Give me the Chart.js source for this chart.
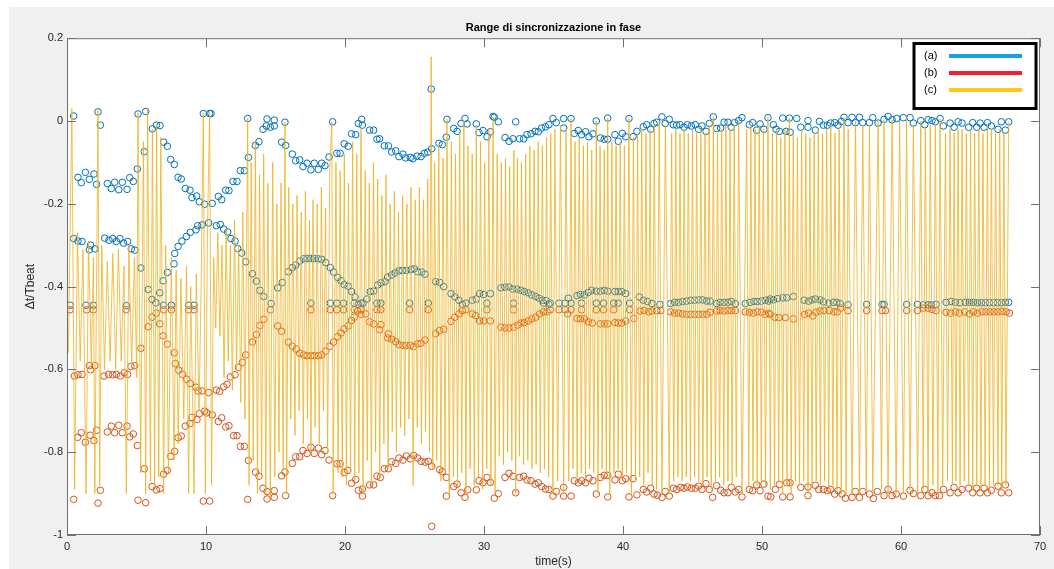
<!DOCTYPE html>
<html lang="it">
<head>
<meta charset="UTF-8">
<title>Range di sincronizzazione in fase</title>
<script src="https://cdn.jsdelivr.net/npm/chart.js"></script>
<style>
  html, body { margin: 0; padding: 0; background: #fff; }
</style>
</head>
<body>
<canvas id="chart" width="1054" height="569"></canvas>
<script>
// axis ticks
const xTicks = [0, 10, 20, 30, 40, 50, 60, 70];
const yTicks = [0.2, 0, -0.2, -0.4, -0.6, -0.8, -1];
const legendLabels = ['(a)', '(b)', '(c)'];

// (a) blue circles, [time, value]
const blue0 = [[0.22,-0.445],[0.48,0.012],[0.48,-0.284],[0.79,-0.136],[0.79,-0.29],[1.03,-0.149],[1.08,-0.291],[1.32,-0.124],[1.37,-0.445],[1.61,-0.141],[1.61,-0.311],[1.7,-0.3],[1.9,-0.445],[1.94,-0.128],[2.01,-0.309],[2.13,-0.153],[2.23,0.022],[2.4,-0.01],[2.71,-0.283],[2.9,-0.151],[3.02,-0.288],[3.19,-0.163],[3.29,-0.284],[3.43,-0.148],[3.55,-0.291],[3.72,-0.166],[3.81,-0.284],[3.98,-0.148],[4.07,-0.295],[4.27,-0.446],[4.32,-0.165],[4.36,-0.291],[4.51,-0.137],[4.63,-0.309],[4.77,-0.146],[4.87,-0.312],[5.06,-0.116],[5.11,0.017],[5.32,-0.355],[5.56,-0.074],[5.66,0.023],[5.85,-0.407],[6.12,-0.431],[6.14,-0.019],[6.4,-0.439],[6.43,-0.01],[6.67,-0.415],[6.69,-0.011],[6.91,-0.386],[6.95,-0.051],[6.95,-0.445],[7.22,-0.366],[7.22,-0.061],[7.46,-0.093],[7.51,-0.445],[7.7,-0.345],[7.72,-0.105],[7.75,-0.32],[7.99,-0.136],[7.99,-0.303],[8.22,-0.14],[8.27,-0.29],[8.51,-0.163],[8.59,-0.279],[8.75,-0.445],[8.85,-0.167],[8.87,-0.269],[8.99,-0.185],[9.14,-0.445],[9.28,-0.263],[9.33,-0.181],[9.4,-0.253],[9.52,-0.195],[9.71,-0.251],[9.81,0.018],[9.9,-0.201],[10.19,-0.246],[10.26,0.018]];
const blue1 = [[10.36,0.018],[10.45,-0.199],[10.74,-0.253],[10.89,-0.182],[11.03,-0.25],[11.13,-0.19],[11.27,-0.261],[11.42,-0.167],[11.56,-0.268],[11.65,-0.168],[11.8,-0.284],[11.94,-0.146],[12.09,-0.29],[12.23,-0.146],[12.28,-0.308],[12.47,-0.12],[12.57,-0.319],[12.76,-0.12],[12.86,-0.34],[13.0,0.006],[13.05,-0.088],[13.34,-0.369],[13.55,-0.059],[13.63,-0.387],[13.81,-0.05],[13.87,-0.409],[14.1,-0.02],[14.15,-0.424],[14.34,-0.012],[14.39,0.005],[14.63,-0.015],[14.68,-0.441],[14.91,0.002],[14.91,-0.012],[15.16,-0.403],[15.44,-0.051],[15.49,-0.39],[15.68,-0.003],[15.73,-0.059],[15.93,-0.364],[16.21,-0.08],[16.21,-0.354],[16.45,-0.096],[16.45,-0.348],[16.74,-0.094],[16.74,-0.338],[16.98,-0.11],[17.03,-0.333],[17.27,-0.102],[17.27,-0.332],[17.55,-0.118],[17.55,-0.332],[17.55,-0.44],[17.79,-0.102],[17.79,-0.332],[18.08,-0.117],[18.08,-0.333],[18.32,-0.102],[18.32,-0.334],[18.56,-0.108],[18.61,-0.342],[18.85,-0.087],[18.94,-0.354],[18.94,-0.44],[19.11,-0.002],[19.18,-0.365],[19.42,-0.078],[19.42,-0.44],[19.47,-0.378],[19.65,-0.078],[19.71,-0.386],[19.9,-0.44],[19.94,-0.055],[19.94,-0.395],[20.23,-0.061],[20.23,-0.399],[20.47,-0.031],[20.47,-0.412]];
const blue2 = [[20.77,-0.033],[20.96,-0.006],[21.2,0.004],[21.25,-0.01],[21.77,-0.022],[22.06,-0.022],[22.3,-0.044],[22.49,-0.043],[22.83,-0.06],[23.12,-0.06],[23.36,-0.075],[23.65,-0.072],[23.88,-0.086],[24.17,-0.08],[24.36,-0.089],[24.7,-0.088],[24.89,-0.091],[25.18,-0.085],[25.47,-0.086],[25.71,-0.078],[25.95,-0.075],[26.2,0.077],[26.24,-0.067],[26.76,-0.054],[27.0,-0.057],[27.29,-0.039],[27.34,0.004],[27.82,-0.018],[28.06,-0.025],[28.35,-0.006],[28.63,0.006],[28.78,-0.007],[29.45,-0.007],[29.64,-0.028],[29.93,-0.023],[30.22,-0.038],[30.46,-0.026],[30.65,0.011],
  [20.72,-0.425],[20.96,-0.443],[21.3,-0.44],[21.58,-0.43],[21.82,-0.412],[22.06,-0.411],[22.35,-0.396],[22.59,-0.391],[22.88,-0.388],[23.07,-0.377],[23.36,-0.372],[23.6,-0.367],[23.88,-0.362],[24.12,-0.361],[24.41,-0.361],[24.75,-0.359],[24.99,-0.357],[25.23,-0.364],[25.52,-0.365],[25.76,-0.37],[26.52,-0.388],[26.81,-0.39],[27.1,-0.4],[27.63,-0.417],[27.91,-0.425],[28.2,-0.433],[28.44,-0.443],[29.16,-0.433],[29.45,-0.43],[29.69,-0.417],[29.98,-0.419],[30.46,-0.417],
  [20.67,-0.44],[21.15,-0.44],[22.3,-0.44],[22.58,-0.44],[24.65,-0.44],[25.99,-0.44],[28.7,-0.44],[30.2,-0.44]];
const blue3 = [[30.74,0.009],[31.03,-0.002],[31.51,-0.04],[31.8,-0.049],[32.08,-0.043],[32.28,-0.002],[32.56,-0.043],[32.85,-0.043],[33.09,-0.033],[33.38,-0.031],[33.67,-0.025],[33.91,-0.026],[34.15,-0.017],[34.43,-0.014],[34.67,-0.009],[34.96,0.006],[35.2,-0.004],[35.73,0.006],[35.73,-0.017],[36.26,0.006],[36.5,-0.03],[36.78,-0.023],[37.02,-0.033],[37.31,-0.026],[37.55,-0.038],[37.84,-0.031],[38.08,0],[38.37,-0.041],[38.65,-0.044],[38.9,0.007],[38.9,-0.044],[39.42,-0.033],[39.66,-0.049],[39.95,-0.03],[40.19,-0.038],[40.43,0.006],[40.72,-0.038],
  [31.22,-0.403],[31.51,-0.401],[31.8,-0.401],[32.08,-0.406],[32.37,-0.406],[32.66,-0.409],[32.9,-0.412],[33.19,-0.415],[33.43,-0.42],[33.72,-0.424],[33.96,-0.428],[34.2,-0.433],[34.48,-0.434],[34.67,-0.443],[36.07,-0.428],[36.69,-0.422],[36.93,-0.419],[37.22,-0.42],[37.5,-0.414],[37.74,-0.409],[38.08,-0.411],[38.37,-0.411],[38.65,-0.409],[38.9,-0.411],[39.42,-0.412],[39.66,-0.412],[39.9,-0.412],[40.19,-0.417],
  [32.13,-0.44],[34.29,-0.44],[34.77,-0.44],[35.4,-0.44],[35.83,-0.44],[36.26,-0.44],[37.02,-0.44],[38.08,-0.44],[38.6,-0.44],[39.33,-0.44],[39.66,-0.44],[40.48,-0.44]];
const blue4 = [[41.0,-0.025],[41.46,-0.014],[41.7,-0.009],[41.99,-0.02],[42.23,-0.006],[42.42,-0.003],[42.8,0.01],[43.04,-0.006],[43.33,0.004],[43.62,-0.009],[43.86,-0.01],[44.1,-0.009],[44.39,-0.015],[44.63,-0.009],[44.92,-0.012],[45.2,-0.009],[45.44,-0.02],[45.68,-0.012],[45.97,-0.025],[46.21,-0.006],[46.5,0.01],[46.74,-0.018],[47.03,-0.017],[47.27,-0.003],[47.55,-0.003],[47.79,-0.015],[48.03,-0.004],[48.32,0.001],[48.56,0.008],[49.09,-0.009],[49.33,-0.004],[49.62,-0.022],[49.86,-0.007],[50.14,-0.02],[50.43,0.008],
  [41.17,-0.425],[41.46,-0.433],[41.75,-0.436],[42.08,-0.441],[42.66,-0.443],[43.43,-0.441],[43.72,-0.438],[44.0,-0.438],[44.29,-0.436],[44.58,-0.435],[44.87,-0.433],[45.15,-0.433],[45.44,-0.432],[45.73,-0.432],[46.02,-0.435],[46.26,-0.435],[46.74,-0.441],[46.98,-0.438],[47.27,-0.438],[47.55,-0.438],[47.79,-0.436],[48.08,-0.441],[48.8,-0.441],[49.14,-0.438],[49.42,-0.436],[49.66,-0.436],[49.95,-0.435],[50.24,-0.433],[50.48,-0.435]];
const blue5 = [[50.82,-0.009],[51.01,-0.02],[51.25,-0.025],[51.49,0.007],[51.73,-0.025],[51.97,0.007],[52.02,-0.027],[52.5,0.006],[52.79,-0.015],[53.31,0.001],[53.31,-0.015],[53.84,-0.022],[54.13,-0.001],[54.42,-0.01],[54.7,-0.01],[54.94,-0.005],[55.23,-0.004],[55.47,-0.01],[55.71,-0.001],[55.9,0.009],[56.19,-0.004],[56.48,0.009],[56.72,-0.004],[57.01,0.009],[57.25,-0.004],[57.73,-0.004],[57.97,0.008],[58.35,-0.005],[58.78,0.004],[59.07,0.011],[59.36,0.003],[59.69,0.006],[60.17,0.008],[60.65,0.008],[60.89,-0.005],[61.42,0.001],[61.71,-0.009],[61.95,0.003],[62.23,0.001],[62.47,-0.002],[62.81,0.006],[63.05,-0.012],[63.53,-0.005],[63.82,-0.015],[64.11,-0.002],[64.39,-0.005],[64.87,-0.015],[65.16,-0.004],[65.45,-0.015],[65.69,-0.005],[65.98,-0.015],[66.22,-0.004],[66.5,-0.012],[66.98,-0.02],[67.22,-0.002],[67.51,-0.022],[67.75,-0.002],
  [50.58,-0.43],[50.82,-0.432],[51.11,-0.429],[51.49,-0.427],[51.78,-0.427],[52.26,-0.424],[53.03,-0.433],[53.36,-0.435],[53.6,-0.432],[53.84,-0.43],[54.18,-0.432],[54.42,-0.437],[54.8,-0.44],[55.14,-0.438],[55.38,-0.438],[55.62,-0.441],[56.19,-0.444],[57.53,-0.443],[58.64,-0.443],[58.78,-0.443],[60.41,-0.443],[61.18,-0.443],[61.61,-0.444],[61.95,-0.444],[62.19,-0.444],[62.52,-0.443],[63.24,-0.438],[63.62,-0.436],[63.91,-0.438],[64.25,-0.439],[64.63,-0.438],[64.92,-0.438],[65.21,-0.438],[65.5,-0.439],[65.79,-0.439],[66.07,-0.439],[66.36,-0.439],[66.65,-0.439],[66.94,-0.439],[67.22,-0.439],[67.51,-0.438],[67.75,-0.438]];

// (b) red circles, [time, value]
const red0 = [[0.22,-0.456],[0.48,-0.914],[0.53,-0.616],[0.77,-0.764],[0.79,-0.613],[1.03,-0.753],[1.08,-0.612],[1.32,-0.776],[1.42,-0.456],[1.61,-0.591],[1.66,-0.759],[1.7,-0.601],[1.9,-0.456],[1.94,-0.772],[2.01,-0.591],[2.13,-0.747],[2.23,-0.923],[2.4,-0.892],[2.66,-0.616],[2.9,-0.751],[2.99,-0.612],[3.19,-0.737],[3.29,-0.613],[3.43,-0.753],[3.55,-0.612],[3.72,-0.735],[3.84,-0.616],[3.98,-0.753],[4.12,-0.608],[4.25,-0.456],[4.32,-0.737],[4.36,-0.612],[4.51,-0.763],[4.6,-0.593],[4.77,-0.756],[4.87,-0.591],[5.06,-0.784],[5.11,-0.916],[5.32,-0.549],[5.56,-0.84],[5.66,-0.922],[5.85,-0.497],[6.12,-0.474],[6.12,-0.883],[6.43,-0.891],[6.43,-0.464],[6.67,-0.49],[6.69,-0.888],[6.91,-0.519],[6.95,-0.853],[6.95,-0.456],[7.22,-0.539],[7.22,-0.844],[7.46,-0.81],[7.51,-0.456],[7.72,-0.56],[7.75,-0.798],[7.8,-0.586],[7.99,-0.765],[8.04,-0.602],[8.22,-0.761],[8.32,-0.612],[8.51,-0.737],[8.61,-0.624],[8.75,-0.456],[8.85,-0.731],[8.87,-0.634],[8.99,-0.716],[9.14,-0.456],[9.28,-0.643],[9.35,-0.721],[9.43,-0.652],[9.52,-0.707],[9.71,-0.652],[9.81,-0.918],[9.9,-0.701],[10.19,-0.656],[10.26,-0.918]];
const red1 = [[10.05,-0.705],[10.45,-0.71],[10.74,-0.65],[10.89,-0.726],[10.98,-0.653],[11.13,-0.717],[11.27,-0.642],[11.42,-0.739],[11.51,-0.636],[11.65,-0.736],[11.75,-0.618],[11.99,-0.76],[12.09,-0.613],[12.23,-0.76],[12.33,-0.595],[12.47,-0.786],[12.62,-0.583],[12.76,-0.786],[12.86,-0.565],[13.0,-0.914],[13.05,-0.82],[13.34,-0.534],[13.57,-0.848],[13.63,-0.516],[13.81,-0.858],[13.87,-0.494],[14.1,-0.887],[14.15,-0.479],[14.39,-0.895],[14.39,-0.913],[14.63,-0.456],[14.91,-0.893],[14.91,-0.909],[15.16,-0.495],[15.44,-0.508],[15.44,-0.857],[15.68,-0.848],[15.73,-0.905],[15.93,-0.534],[16.21,-0.544],[16.21,-0.827],[16.45,-0.811],[16.5,-0.551],[16.74,-0.561],[16.74,-0.811],[16.98,-0.796],[17.03,-0.565],[17.27,-0.567],[17.27,-0.803],[17.55,-0.567],[17.55,-0.788],[17.55,-0.456],[17.79,-0.567],[17.79,-0.803],[18.08,-0.567],[18.08,-0.79],[18.32,-0.565],[18.32,-0.806],[18.56,-0.796],[18.61,-0.556],[18.85,-0.819],[18.9,-0.544],[18.94,-0.456],[19.11,-0.905],[19.18,-0.534],[19.42,-0.828],[19.42,-0.456],[19.47,-0.521],[19.65,-0.828],[19.71,-0.512],[19.9,-0.456],[19.94,-0.502],[19.94,-0.849],[20.2,-0.844],[20.23,-0.495],[20.47,-0.482],[20.47,-0.875]];
const red2 = [[20.67,-0.474],[20.91,-0.459],[21.15,-0.467],[21.49,-0.466],[21.77,-0.485],[22.06,-0.49],[22.49,-0.504],[22.59,-0.492],[23.07,-0.524],[23.12,-0.514],[23.36,-0.527],[23.65,-0.533],[23.88,-0.54],[24.17,-0.542],[24.41,-0.542],[24.7,-0.542],[24.94,-0.545],[25.23,-0.538],[25.47,-0.537],[25.76,-0.529],[26.52,-0.514],[26.81,-0.506],[27.1,-0.503],[27.63,-0.484],[27.91,-0.474],[28.2,-0.466],[28.44,-0.458],[29.16,-0.466],[29.4,-0.47],[29.69,-0.483],[29.98,-0.483],[30.46,-0.483],
  [20.67,-0.456],[21.15,-0.456],[22.3,-0.456],[22.58,-0.456],[24.65,-0.456],[25.99,-0.456],[28.7,-0.456],[30.2,-0.456],
  [20.77,-0.866],[20.96,-0.892],[21.25,-0.906],[21.25,-0.889],[21.77,-0.879],[22.06,-0.879],[22.3,-0.858],[22.54,-0.861],[22.83,-0.84],[23.12,-0.84],[23.36,-0.823],[23.65,-0.827],[23.88,-0.814],[24.17,-0.819],[24.41,-0.809],[24.7,-0.816],[24.94,-0.808],[25.23,-0.814],[25.47,-0.822],[25.76,-0.824],[26.0,-0.822],[26.24,-0.834],[26.24,-0.979],[26.81,-0.842],[27.0,-0.847],[27.29,-0.861],[27.29,-0.906],[27.82,-0.883],[28.06,-0.877],[28.35,-0.898],[28.63,-0.909],[28.83,-0.891],[29.45,-0.891],[29.64,-0.869],[29.93,-0.874],[30.22,-0.861],[30.46,-0.873]];
const red3 = [[31.22,-0.498],[31.51,-0.5],[31.8,-0.5],[32.13,-0.498],[32.13,-0.456],[32.42,-0.493],[32.66,-0.488],[32.9,-0.487],[33.19,-0.483],[33.43,-0.478],[33.72,-0.474],[34.0,-0.466],[34.29,-0.461],[34.53,-0.461],[34.77,-0.456],[35.4,-0.456],[35.83,-0.456],[36.02,-0.466],[36.26,-0.456],[36.69,-0.477],[36.93,-0.478],[37.02,-0.456],[37.22,-0.478],[37.5,-0.485],[37.79,-0.488],[38.08,-0.456],[38.37,-0.49],[38.6,-0.456],[38.65,-0.49],[38.9,-0.49],[39.33,-0.456],[39.42,-0.487],[39.66,-0.488],[39.9,-0.488],[40.19,-0.483],[40.48,-0.456],[40.77,-0.477],
  [30.74,-0.911],[31.03,-0.9],[31.51,-0.861],[31.8,-0.851],[32.08,-0.858],[32.28,-0.898],[32.56,-0.861],[32.85,-0.858],[33.09,-0.867],[33.38,-0.869],[33.67,-0.877],[33.91,-0.874],[34.15,-0.883],[34.43,-0.889],[34.67,-0.89],[34.96,-0.906],[35.2,-0.895],[35.73,-0.906],[35.73,-0.885],[36.26,-0.906],[36.5,-0.869],[36.78,-0.874],[37.02,-0.869],[37.31,-0.874],[37.55,-0.863],[37.84,-0.869],[38.08,-0.901],[38.37,-0.861],[38.65,-0.856],[38.9,-0.908],[38.9,-0.856],[39.42,-0.867],[39.66,-0.853],[39.95,-0.869],[40.19,-0.864],[40.43,-0.908],[40.72,-0.864]];
const red4 = [[41.22,-0.459],[41.51,-0.458],[41.85,-0.461],[42.08,-0.459],[42.42,-0.458],[42.71,-0.458],[43.43,-0.461],[43.72,-0.464],[44.0,-0.464],[44.29,-0.466],[44.58,-0.467],[44.87,-0.467],[45.15,-0.467],[45.44,-0.467],[45.73,-0.467],[46.02,-0.467],[46.26,-0.462],[46.74,-0.459],[46.98,-0.458],[47.27,-0.459],[47.55,-0.458],[47.79,-0.458],[48.08,-0.458],[48.8,-0.461],[49.09,-0.462],[49.38,-0.464],[49.66,-0.461],[49.95,-0.462],[50.24,-0.467],[50.48,-0.464],
  [41.0,-0.903],[41.46,-0.89],[41.7,-0.896],[41.99,-0.887],[42.23,-0.901],[42.47,-0.904],[42.8,-0.909],[43.04,-0.895],[43.33,-0.906],[43.62,-0.887],[43.86,-0.89],[44.15,-0.885],[44.39,-0.887],[44.63,-0.884],[44.92,-0.887],[45.2,-0.887],[45.44,-0.882],[45.68,-0.89],[45.97,-0.876],[46.21,-0.89],[46.45,-0.909],[46.74,-0.881],[47.03,-0.892],[47.27,-0.898],[47.55,-0.898],[47.79,-0.885],[48.08,-0.896],[48.32,-0.89],[48.56,-0.908],[49.09,-0.89],[49.33,-0.893],[49.62,-0.879],[49.86,-0.893],[50.14,-0.877],[50.43,-0.906]];
const red5 = [[50.58,-0.467],[50.92,-0.474],[51.2,-0.475],[51.68,-0.475],[52.26,-0.478],[53.07,-0.467],[53.36,-0.464],[53.65,-0.471],[53.89,-0.462],[54.18,-0.459],[54.46,-0.458],[54.85,-0.458],[55.18,-0.461],[55.42,-0.461],[55.66,-0.452],[56.19,-0.458],[57.53,-0.458],[58.64,-0.458],[58.88,-0.458],[60.41,-0.458],[61.18,-0.458],[61.61,-0.452],[61.95,-0.452],[62.23,-0.455],[62.52,-0.458],[63.24,-0.462],[63.58,-0.464],[63.91,-0.461],[64.2,-0.464],[64.58,-0.461],[64.92,-0.466],[65.21,-0.461],[65.5,-0.464],[65.83,-0.461],[66.12,-0.461],[66.41,-0.461],[66.7,-0.461],[66.98,-0.461],[67.27,-0.46],[67.56,-0.461],[67.8,-0.464],
  [50.63,-0.908],[50.96,-0.89],[51.25,-0.878],[51.49,-0.908],[51.78,-0.874],[52.02,-0.874],[52.02,-0.908],[52.79,-0.885],[53.31,-0.884],[53.31,-0.905],[53.84,-0.88],[54.08,-0.89],[54.42,-0.89],[54.7,-0.893],[54.94,-0.89],[55.23,-0.901],[55.47,-0.893],[55.76,-0.901],[56.0,-0.911],[56.48,-0.909],[56.72,-0.895],[57.01,-0.909],[57.25,-0.895],[57.73,-0.901],[58.02,-0.912],[58.3,-0.895],[58.78,-0.905],[59.07,-0.89],[59.36,-0.905],[59.65,-0.901],[60.17,-0.906],[60.65,-0.892],[60.89,-0.9],[61.42,-0.905],[61.71,-0.89],[61.95,-0.905],[62.23,-0.898],[62.47,-0.905],[62.76,-0.905],[63.05,-0.89],[63.53,-0.898],[63.82,-0.885],[64.11,-0.898],[64.39,-0.89],[64.87,-0.887],[65.16,-0.898],[65.45,-0.887],[65.69,-0.898],[65.98,-0.887],[66.22,-0.898],[66.5,-0.892],[66.98,-0.882],[67.22,-0.898],[67.51,-0.879],[67.75,-0.898]];

// (c) yellow line, [time, value]
const yel0 = [[0.1,-0.56],[0.35,0.03],[0.55,-0.89],[0.75,-0.27],[0.95,-0.58],[1.15,-0.31],[1.37,-0.9],[1.55,-0.29],[1.75,-0.59],[1.9,-0.33],[2.0,-0.9],[2.23,0.025],[2.35,-0.88],[2.5,-0.3],[2.7,-0.6],[2.9,-0.34],[3.1,-0.58],[3.3,-0.32],[3.5,-0.6],[3.7,-0.31],[3.9,-0.58],[4.1,-0.35],[4.27,-0.9],[4.45,-0.3],[4.65,-0.59],[4.85,-0.33],[5.02,-0.62],[5.11,0.02],[5.3,-0.85],[5.5,-0.05],[5.66,-0.9],[5.8,0.03],[6.0,-0.87],[6.15,-0.02],[6.3,-0.88],[6.45,-0.01],[6.6,-0.86],[6.75,-0.04],[6.95,-0.9],[7.1,-0.3],[7.3,-0.85],[7.51,-0.33],[7.7,-0.82],[7.85,-0.36],[8.0,-0.78],[8.2,-0.38],[8.4,-0.72],[8.6,-0.35],[8.75,-0.9],[8.9,-0.4],[9.14,-0.9],[9.3,-0.37],[9.5,-0.7],[9.65,-0.4],[9.81,0.02],[9.95,-0.9],[10.1,-0.28],[10.26,0.02],[10.4,-0.88]];
const yel1 = [[10.55,-0.33],[10.7,-0.5],[10.85,-0.27],[11.0,-0.52],[11.15,-0.3],[11.3,-0.62],[11.45,-0.26],[11.6,-0.58],[11.75,-0.3],[11.9,-0.65],[12.05,-0.24],[12.2,-0.6],[12.35,-0.3],[12.5,-0.68],[12.65,-0.22],[12.8,-0.72],[13.0,0.006],[13.1,-0.88],[13.25,-0.1],[13.4,-0.82],[13.55,-0.05],[13.7,-0.9],[13.85,-0.13],[14.0,-0.85],[14.15,-0.08],[14.3,-0.9],[14.45,-0.15],[14.63,-0.91],[14.8,-0.1],[14.95,-0.86],[15.1,-0.2],[15.25,-0.8],[15.4,-0.15],[15.55,-0.84],[15.68,-0.003],[15.8,-0.9],[15.95,-0.16],[16.1,-0.72],[16.25,-0.2],[16.4,-0.76],[16.55,-0.18],[16.7,-0.7],[16.85,-0.22],[17.0,-0.78],[17.15,-0.17],[17.3,-0.72],[17.45,-0.24],[17.55,-0.8],[17.7,-0.19],[17.85,-0.74],[18.0,-0.2],[18.15,-0.78],[18.3,-0.16],[18.45,-0.7],[18.6,-0.21],[18.75,-0.8],[18.9,-0.12],[19.05,-0.002],[19.15,-0.9],[19.35,-0.1],[19.5,-0.85],[19.65,-0.12],[19.8,-0.86],[19.95,-0.08],[20.1,-0.88],[20.25,-0.15],[20.4,-0.84],[20.55,-0.05]];
const yel2 = [[20.7,-0.87],[20.85,-0.08],[21.0,-0.85],[21.15,-0.02],[21.3,-0.9],[21.45,-0.12],[21.6,-0.82],[21.75,-0.15],[21.9,-0.88],[22.05,-0.1],[22.2,-0.8],[22.35,-0.14],[22.5,-0.86],[22.65,-0.18],[22.8,-0.78],[22.95,-0.13],[23.1,-0.84],[23.25,-0.2],[23.4,-0.75],[23.55,-0.17],[23.7,-0.8],[23.85,-0.22],[24.0,-0.74],[24.15,-0.18],[24.3,-0.76],[24.45,-0.2],[24.6,-0.72],[24.75,-0.16],[24.9,-0.88],[25.05,-0.19],[25.2,-0.74],[25.35,-0.16],[25.5,-0.78],[25.65,-0.19],[25.8,-0.75],[25.95,-0.14],[26.08,-0.8],[26.2,0.155],[26.32,-0.84],[26.45,-0.1],[26.6,-0.82],[26.75,-0.06],[26.9,-0.87],[27.05,-0.09],[27.2,-0.84],[27.34,0.004],[27.5,-0.9],[27.65,-0.05],[27.8,-0.86],[27.95,-0.08],[28.1,-0.88],[28.25,-0.03],[28.4,-0.85],[28.55,0.0],[28.7,-0.9],[28.85,-0.06],[29.0,-0.84],[29.15,-0.08],[29.3,-0.88],[29.45,-0.01],[29.6,-0.86],[29.75,-0.05],[29.9,-0.89],[30.05,-0.1],[30.2,-0.84],[30.35,-0.02],[30.5,-0.88],[30.65,0.01]];
const yel3 = [[30.8,-0.9],[30.95,-0.08],[31.1,-0.81],[31.25,-0.1],[31.4,-0.83],[31.55,-0.09],[31.7,-0.8],[31.85,-0.11],[32.0,-0.82],[32.15,-0.07],[32.28,-0.9],[32.4,-0.09],[32.55,-0.81],[32.7,-0.1],[32.85,-0.83],[33.0,-0.08],[33.15,-0.82],[33.3,-0.06],[33.45,-0.84],[33.6,-0.07],[33.75,-0.83],[33.9,-0.05],[34.05,-0.85],[34.2,-0.06],[34.35,-0.84],[34.5,-0.04],[34.65,-0.86],[34.8,-0.03],[34.96,-0.9],[35.1,-0.02],[35.3,-0.87],[35.5,-0.01],[35.73,-0.9],[35.9,-0.02],[36.1,-0.87],[36.26,0.006],[36.4,-0.84],[36.55,-0.05],[36.7,-0.86],[36.85,-0.04],[37.0,-0.85],[37.15,-0.06],[37.3,-0.86],[37.45,-0.05],[37.6,-0.84],[37.75,-0.07],[37.9,-0.85],[38.08,0.0],[38.2,-0.9],[38.35,-0.06],[38.5,-0.84],[38.65,-0.07],[38.8,-0.85],[38.9,0.007],[39.05,-0.9],[39.2,-0.05],[39.35,-0.85],[39.5,-0.06],[39.65,-0.84],[39.8,-0.05],[39.95,-0.86],[40.1,-0.06],[40.25,-0.85],[40.43,0.006],[40.6,-0.9],[40.75,-0.04]];
const yel4 = [[40.9,-0.87],[41.05,-0.03],[41.2,-0.86],[41.35,-0.02],[41.5,-0.88],[41.65,-0.03],[41.8,-0.85],[41.95,-0.02],[42.1,-0.88],[42.25,-0.01],[42.42,-0.89],[42.6,0.0],[42.8,-0.9],[43.05,-0.01],[43.33,-0.9],[43.5,-0.03],[43.65,-0.87],[43.8,-0.02],[43.95,-0.86],[44.1,-0.03],[44.25,-0.87],[44.4,-0.02],[44.55,-0.86],[44.7,-0.03],[44.85,-0.87],[45.0,-0.02],[45.15,-0.86],[45.3,-0.03],[45.45,-0.87],[45.6,-0.02],[45.75,-0.88],[45.9,-0.03],[46.05,-0.86],[46.2,-0.01],[46.35,-0.89],[46.5,0.01],[46.65,-0.87],[46.8,-0.03],[46.95,-0.86],[47.1,-0.02],[47.25,-0.88],[47.4,-0.01],[47.55,-0.87],[47.7,-0.02],[47.85,-0.88],[48.0,-0.01],[48.15,-0.86],[48.32,0.0],[48.56,-0.9],[48.9,-0.02],[49.05,-0.88],[49.2,-0.01],[49.35,-0.87],[49.5,-0.02],[49.65,-0.88],[49.8,-0.01],[49.95,-0.87],[50.1,-0.02],[50.25,-0.88],[50.43,0.008]];
const yel5 = [[50.6,-0.89],[50.75,-0.03],[50.9,-0.88],[51.05,-0.02],[51.2,-0.87],[51.35,-0.04],[51.49,-0.9],[51.65,-0.02],[51.8,-0.88],[51.97,0.007],[52.1,-0.9],[52.25,-0.03],[52.4,-0.87],[52.55,-0.04],[52.7,-0.88],[52.85,-0.02],[53.0,-0.87],[53.15,-0.03],[53.31,-0.9],[53.45,-0.04],[53.6,-0.88],[53.75,-0.03],[53.9,-0.87],[54.05,-0.02],[54.2,-0.88],[54.35,-0.03],[54.5,-0.87],[54.65,-0.02],[54.8,-0.89],[54.95,-0.01],[55.1,-0.88],[55.25,-0.03],[55.4,-0.89],[55.55,-0.02],[55.7,-0.9],[55.9,0.009],[56.05,-0.9],[56.2,-0.02],[56.48,-0.9],[56.72,0.0],[57.01,-0.9],[57.25,-0.01],[57.5,-0.89],[57.73,-0.01],[57.97,-0.9],[58.35,0.0],[58.6,-0.89],[58.78,0.004],[59.07,-0.9],[59.36,0.003],[59.65,-0.9],[59.9,0.0],[60.17,-0.9],[60.4,0.008],[60.65,-0.89],[60.89,-0.01],[61.2,-0.9],[61.42,0.0],[61.6,-0.89],[61.75,-0.02],[61.95,-0.9],[62.1,-0.01],[62.3,-0.88],[62.47,-0.01],[62.65,-0.9],[62.81,0.006],[63.0,-0.88],[63.2,-0.03],[63.35,-0.87],[63.53,-0.02],[63.7,-0.88],[63.82,-0.03],[63.95,-0.87],[64.11,-0.02],[64.25,-0.88],[64.39,-0.02],[64.55,-0.87],[64.7,-0.03],[64.87,-0.88],[65.0,-0.02],[65.16,-0.89],[65.3,-0.03],[65.45,-0.88],[65.6,-0.02],[65.75,-0.89],[65.9,-0.03],[66.05,-0.88],[66.22,-0.01],[66.36,-0.89],[66.5,-0.02],[66.65,-0.88],[66.8,-0.03],[66.98,-0.88],[67.1,-0.02],[67.25,-0.89],[67.4,-0.03],[67.55,-0.88],[67.75,-0.002]];

const FONT = "'Liberation Sans', Arial, Helvetica, sans-serif";
const toXY = arr => arr.map(p => ({ x: p[0], y: p[1] }));
const blueAll = [].concat(blue0, blue1, blue2, blue3, blue4, blue5);
const redAll = [].concat(red0, red1, red2, red3, red4, red5);
const yelAll = [].concat(yel0, yel1, yel2, yel3, yel4, yel5);

// matlab-ish figure: grey frame, boxed axes with inward ticks, own legend
const matlabLook = {
    id: 'matlabLook',
    beforeDraw(chart) {
        const { ctx, chartArea: a } = chart;
        ctx.save();
        ctx.fillStyle = '#ffffff';
        ctx.fillRect(0, 0, chart.width, chart.height);
        ctx.fillStyle = '#f0f0f0';
        ctx.fillRect(9, 7, chart.width - 9, chart.height - 7);
        ctx.fillStyle = '#ffffff';
        ctx.fillRect(a.left, a.top, a.right - a.left, a.bottom - a.top);
        ctx.restore();
    },
    afterDatasetsDraw(chart) {
        const { ctx, chartArea: a, scales } = chart;
        ctx.save();
        ctx.strokeStyle = '#707070';
        ctx.lineWidth = 1;
        ctx.strokeRect(a.left + 0.5, a.top + 0.5, a.right - a.left - 1, a.bottom - a.top - 1);
        ctx.beginPath();
        xTicks.forEach(v => {
            const px = Math.round(scales.x.getPixelForValue(v)) + 0.5;
            ctx.moveTo(px, a.bottom); ctx.lineTo(px, a.bottom - 9);
            ctx.moveTo(px, a.top); ctx.lineTo(px, a.top + 9);
        });
        yTicks.forEach(v => {
            const py = Math.round(scales.y.getPixelForValue(v)) + 0.5;
            ctx.moveTo(a.left, py); ctx.lineTo(a.left + 9, py);
            ctx.moveTo(a.right, py); ctx.lineTo(a.right - 9, py);
        });
        ctx.stroke();

        // legend box
        const lx = 914, ly = 43.5, lw = 122, lh = 65;
        ctx.fillStyle = '#ffffff';
        ctx.fillRect(lx, ly, lw, lh);
        ctx.strokeStyle = '#000000';
        ctx.lineWidth = 3;
        ctx.strokeRect(lx, ly, lw, lh);
        const colors = ['#17a2e6', '#ee2233', '#ffc814'];
        ctx.font = '11px ' + FONT;
        ctx.textBaseline = 'middle';
        ctx.textAlign = 'left';
        legendLabels.forEach((lab, i) => {
            const y = 56 + i * 17;
            ctx.fillStyle = '#000000';
            ctx.fillText(lab, 924, y);
            ctx.strokeStyle = colors[i];
            ctx.lineWidth = 4;
            ctx.beginPath();
            ctx.moveTo(949, y);
            ctx.lineTo(1022, y);
            ctx.stroke();
        });
        ctx.restore();
    }
};

new Chart(document.getElementById('chart'), {
    type: 'scatter',
    data: {
        datasets: [
            {
                label: '(c)',
                data: toXY(yelAll),
                showLine: true,
                borderColor: 'rgba(237,177,32,0.8)',
                borderWidth: 1,
                pointRadius: 0,
                tension: 0
            },
            {
                label: '(b)',
                data: toXY(redAll),
                borderColor: '#D95319',
                backgroundColor: 'rgba(0,0,0,0)',
                pointRadius: 3.3,
                pointBorderWidth: 1
            },
            {
                label: '(a)',
                data: toXY(blueAll),
                borderColor: '#0072BD',
                backgroundColor: 'rgba(0,0,0,0)',
                pointRadius: 3.3,
                pointBorderWidth: 1
            }
        ]
    },
    options: {
        responsive: false,
        animation: false,
        devicePixelRatio: 1,
        events: [],
        layout: { padding: { left: 0, right: 14, top: 0, bottom: 0 } },
        plugins: {
            legend: { display: false },
            tooltip: { enabled: false },
            title: {
                display: true,
                text: 'Range di sincronizzazione in fase',
                fullSize: false,
                color: '#000000',
                font: { family: FONT, size: 11, weight: 'bold' },
                padding: { top: 21, bottom: 4 }
            }
        },
        scales: {
            x: {
                type: 'linear',
                min: 0, max: 70,
                afterFit: s => { s.height = 34; },
                afterBuildTicks: s => { s.ticks = xTicks.map(v => ({ value: v })); },
                grid: { display: false, drawTicks: false },
                border: { display: false },
                ticks: { color: '#262626', font: { family: FONT, size: 11 }, padding: 5, maxRotation: 0 },
                title: { display: true, text: 'time(s)', color: '#262626', font: { family: FONT, size: 12 }, padding: { top: 0, bottom: 0 } }
            },
            y: {
                type: 'linear',
                min: -1, max: 0.2,
                afterFit: s => { s.width = 67; },
                afterBuildTicks: s => { s.ticks = yTicks.map(v => ({ value: v })); },
                grid: { display: false, drawTicks: false },
                border: { display: false },
                ticks: {
                    color: '#262626', font: { family: FONT, size: 11 }, padding: 4,
                    callback: v => String(+v.toFixed(1))
                },
                title: { display: true, text: '\u0394t/Tbeat', color: '#262626', font: { family: FONT, size: 12 }, padding: { top: 23, bottom: 0 } }
            }
        }
    },
    plugins: [matlabLook]
});
</script>
</body>
</html>
